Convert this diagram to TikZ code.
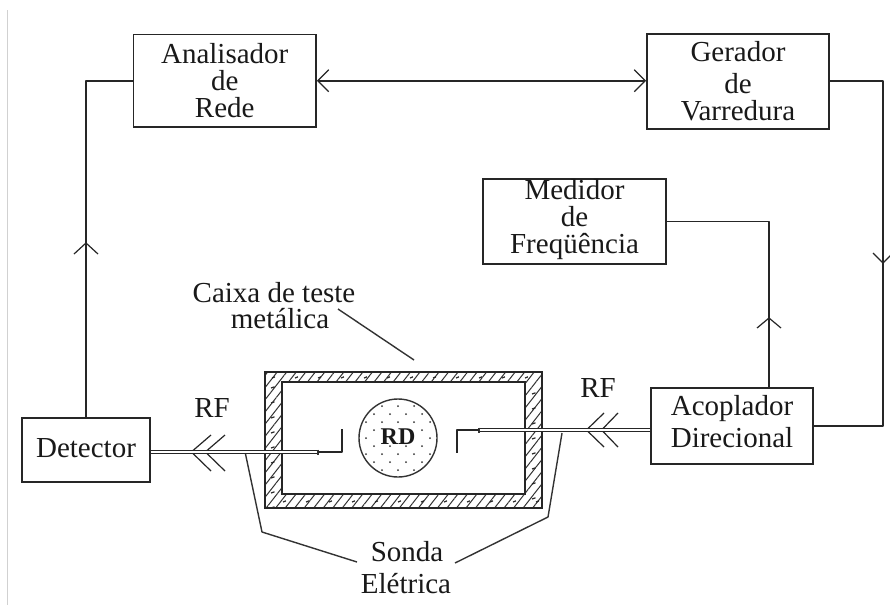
\documentclass[tikz,border=0pt]{standalone}
\usepackage{fontspec}
\setmainfont{Liberation Serif}
\usetikzlibrary{arrows.meta,patterns.meta,calc}
\tikzset{
  x=1pt,y=-1pt,
  every node/.style={font=\fontsize{29}{27}\selectfont,text=black!90,inner sep=0pt},
  box/.style={draw=black!85,line width=1.8pt,align=center,fill=white},
  wire/.style={draw=black!85,line width=1.8pt,line join=round},
  thin wire/.style={draw=black!80,line width=1.4pt,line join=round},
  barb/.style={draw=black!85,line width=1.2pt,line join=miter},
  probe/.style={draw=black!85,line width=1.3pt,double=white,double distance=2pt},
  tip/.tip={Straight Barb[length=11pt,width=22pt,line width=1.2pt]},
  speck/.style={draw=black!85,line width=1.2pt},
}
\begin{document}
\begin{tikzpicture}
\useasboundingbox (0,0) rectangle (890,605);
\fill[white] (0,0) rectangle (890,605);
\draw[black!18,line width=1pt] (7.5,10) -- (7.5,605);

% boxes
\node[box,minimum width=182.5pt,minimum height=92.5pt] (an) at (224.7,80.7) {Analisador\\de\\Rede};
\node[box,minimum width=182pt,minimum height=95pt] (ge) at (738,81.5) {Gerador\\[5pt]de\\Varredura};
\node[box,minimum width=183pt,minimum height=85pt] (me) at (574.5,221.5) {Medidor\\de\\Freqüência\\[-17pt]};
\node[box,minimum width=128pt,minimum height=64pt] (de) at (86,450) {Detector\\[-23pt]};
\node[box,minimum width=162pt,minimum height=76pt] (ac) at (732,426) {Acoplador\\[5pt]Direcional\\[-17pt]};

% metallic box
\node[draw=black!85,line width=1.8pt,pattern={Lines[angle=52,distance=7.5pt,line width=1pt]},pattern color=black!80,minimum width=277pt,minimum height=136pt] (caixa) at (403.5,440) {};
\begin{scope}
\clip (caixa.north west) rectangle (caixa.south east);
\foreach \c in {0,...,11}{
  \pgfmathsetmacro{\px}{272+23*\c}
  \draw[speck] (\px,378) -- ++(3,-1.2);
  \draw[speck] (\px+11,502) -- ++(3,-1.2);
}
\foreach \r in {0,...,8}{
  \pgfmathsetmacro{\py}{388+15*\r}
  \draw[speck] (271,\py) -- ++(3.5,-1.2);
  \draw[speck] (532,\py+6) -- ++(3.5,-1.2);
}
\end{scope}
\node[draw=black!85,line width=1.8pt,fill=white,minimum width=243pt,minimum height=112pt] (inner) at (403.5,438) {};

% sample
\node[circle,draw=black!80,line width=1.4pt,fill=white,minimum size=78pt] (rd) at (398,438) {};
\begin{scope}
\clip (398,438) circle (37pt);
\foreach \r in {-5,...,5}{
  \foreach \c in {-3,...,3}{
    \pgfmathsetmacro{\px}{398+16*\c+mod(abs(\r),2)*8}
    \pgfmathsetmacro{\py}{438+8*\r}
    \fill[black!80] (\px,\py) circle (1pt);
  }
}
\end{scope}
\node[fill=white,inner sep=0pt,font=\fontsize{24}{24}\selectfont\bfseries] (rdt) at (398,437) {RD};

% wires
\draw[wire,{tip}-{tip}] (an.east) -- (ge.west |- an.east);
\draw[wire] (an.west) -| (de.north -| 86,0);
\draw[wire] (ge.east |- 0,81) -| (883,426) -- (ac.east);
\draw[wire] (me.east) -| (ac.north -| 769,0);

% mid-line arrowheads
\coordinate (ua) at (86,243);
\coordinate (da) at (883,263);
\coordinate (ub) at (769,318);
\draw[barb] ($(ua)+(-12,11)$) -- (ua) -- ($(ua)+(12,11)$);
\draw[barb] ($(da)+(-10,-10)$) -- (da) -- ($(da)+(10,-10)$);
\draw[barb] ($(ub)+(-12,10)$) -- (ub) -- ($(ub)+(12,10)$);

% probes
\coordinate (pl) at (318,452);
\coordinate (pr) at (479,430);
\draw[probe] (de.east |- pl) -- (pl);
\draw[probe] (ac.west |- pr) -- (pr);
\draw[thin wire] (318,449.5) -- (318,454.5);
\draw[thin wire] (479,427.5) -- (479,432.5);
\draw[wire] (pl) -- (342,452) -- (342,429);
\draw[wire] (pr) -- (457,430) -- (457,453);

% RF chevrons
\draw[barb] (211,435) -- (193,450.5) (193,453.5) -- (211,471);
\draw[barb] (225,435) -- (207,450.5) (207,453.5) -- (225,471);
\draw[barb] (604,413) -- (588,428.5) (588,431.5) -- (604,447);
\draw[barb] (618,413) -- (603,428.5) (603,431.5) -- (618,447);

% labels
\node (rf1) at (212,408) {RF};
\node (rf2) at (598,388) {RF};
\node[anchor=base,text depth=0pt] (c1) at (274,302) {Caixa de teste};
\node[anchor=base] (c2) at (280,328) {metálica};
\node[anchor=base] (s1) at (407,561) {Sonda};
\node[anchor=base] (s2) at (406,593) {Elétrica};

% leaders
\coordinate (ca) at (338,309);
\draw[thin wire] (ca) -- (414,360);
\coordinate (sl) at (245.5,454);
\coordinate (sr) at (562,433);
\draw[thin wire] (sl) -- (262,532) -- (357,562);
\draw[thin wire] (sr) -- (548,517) -- (455,563);
\end{tikzpicture}
\end{document}
